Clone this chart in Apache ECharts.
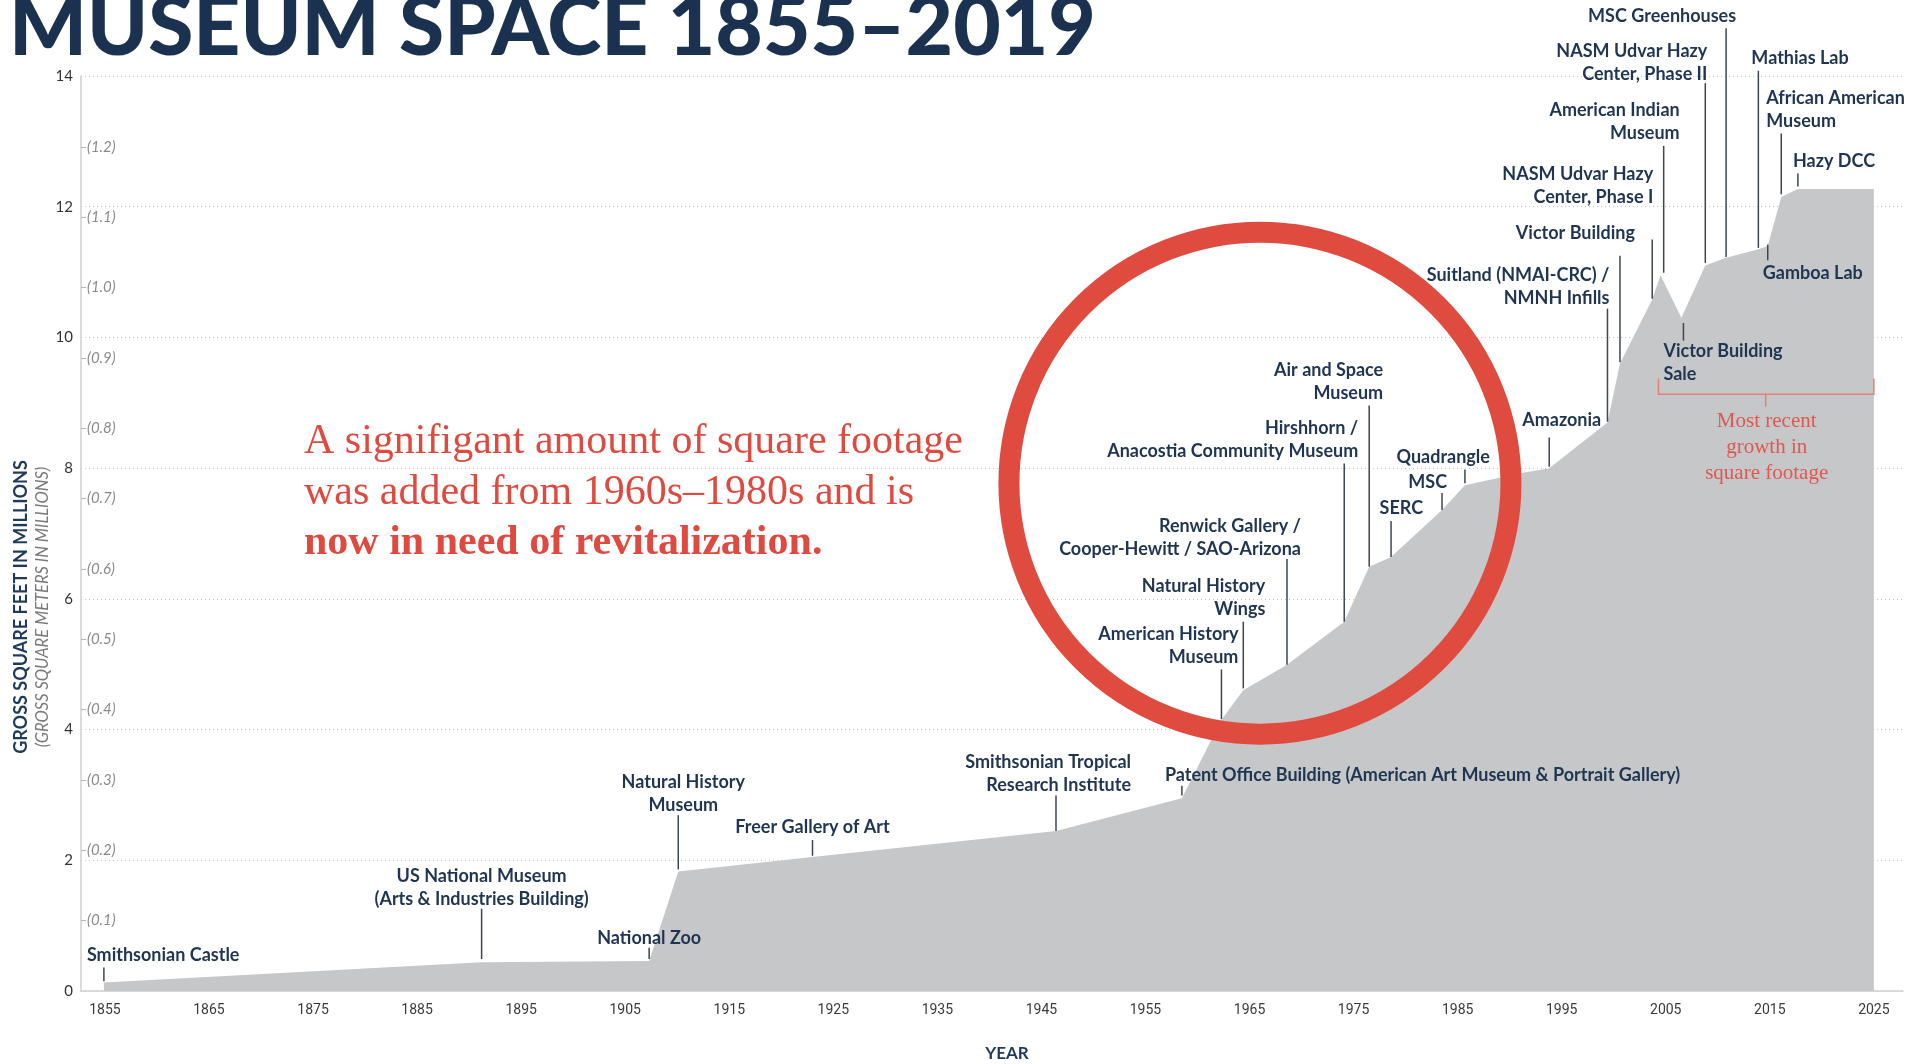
<!DOCTYPE html>
<html>
<head>
<meta charset="utf-8">
<script src="https://cdn.jsdelivr.net/npm/echarts@6/dist/echarts.min.js"></script>
<style>
  html, body { margin: 0; padding: 0; background: #fff; }
  #main { width: 1931px; height: 1064px; }
</style>
</head>
<body>
<div id="main"></div>
<script>
// 面积轮廓（年份 / 百万平方英尺）
const areaYears = [1854.9, 1891.2, 1907.3, 1910.1, 1923.0, 1946.4, 1958.5, 1962.3, 1964.4, 1968.6,
  1974.1, 1976.5, 1978.6, 1983.5, 1985.7, 1991.0, 1993.8, 1999.4, 2000.6, 2003.7,
  2004.5, 2006.5, 2008.8, 2010.8, 2013.9, 2014.8, 2016.1, 2017.7, 2025.0];
const areaValues = [0.13, 0.44, 0.46, 1.83, 2.05, 2.45, 2.95, 4.15, 4.6, 4.99,
  5.65, 6.49, 6.64, 7.36, 7.74, 7.92, 8.0, 8.7, 9.6, 10.58,
  10.95, 10.3, 11.1, 11.22, 11.35, 11.4, 12.15, 12.27, 12.27];

const xTicks = [1855, 1865, 1875, 1885, 1895, 1905, 1915, 1925, 1935, 1945, 1955, 1965, 1975, 1985, 1995, 2005, 2015, 2025];
const meterTicks = [0.1, 0.2, 0.3, 0.4, 0.5, 0.6, 0.7, 0.8, 0.9, 1.0, 1.1, 1.2];
const SQFT_PER_SQM = 10.7639;

// 标注：名称、年份、引线起点(面积边缘)、引线终点
const annoNames = [
  'Smithsonian Castle',
  'US National Museum\n(Arts & Industries Building)',
  'National Zoo',
  'Natural History\nMuseum',
  'Freer Gallery of Art',
  'Smithsonian Tropical\nResearch Institute',
  'Patent Office Building (American Art Museum & Portrait Gallery)',
  'American History\nMuseum',
  'Natural History\nWings',
  'Renwick Gallery /\nCooper-Hewitt / SAO-Arizona',
  'Hirshhorn /\nAnacostia Community Museum',
  'Air and Space\nMuseum',
  'SERC',
  'MSC',
  'Quadrangle',
  'Amazonia',
  'Suitland (NMAI-CRC) /\nNMNH Infills',
  'Victor Building',
  'NASM Udvar Hazy\nCenter, Phase I',
  'American Indian\nMuseum',
  'Victor Building\nSale',
  'NASM Udvar Hazy\nCenter, Phase II',
  'MSC Greenhouses',
  'Mathias Lab',
  'Gamboa Lab',
  'African American\nMuseum',
  'Hazy DCC'
];
const annoYears = [1854.9, 1891.2, 1907.3, 1910.1, 1923.0, 1946.4, 1958.5, 1962.3, 1964.4, 1968.6,
  1974.1, 1976.5, 1978.6, 1983.5, 1985.7, 1993.8, 1999.4, 2000.6, 2003.7, 2004.8,
  2006.7, 2008.8, 2010.8, 2013.9, 2014.8, 2016.1, 2017.7];
const annoFrom = [0.15, 0.49, 0.49, 1.86, 2.07, 2.45, 2.99, 4.16, 4.63, 4.99,
  5.65, 6.49, 6.64, 7.36, 7.77, 8.02, 8.71, 9.62, 10.59, 10.99,
  10.22, 11.14, 11.23, 11.37, 11.42, 12.19, 12.31];
const annoTo = [0.36, 1.26, 0.66, 2.69, 2.31, 2.99, 3.14, 4.92, 5.65, 6.61,
  8.07, 8.96, 7.19, 7.62, 7.98, 8.47, 10.44, 11.25, 11.5, 12.93,
  9.95, 13.89, 14.73, 14.08, 11.18, 13.12, 12.51];

// 标注文字的对齐与偏移(px)
const labelAlign = ['left', 'center', 'center', 'center', 'center', 'right', 'left', 'right', 'right', 'right',
  'right', 'right', 'right', 'right', 'right', 'right', 'right', 'right', 'right', 'right',
  'left', 'right', 'right', 'left', 'left', 'left', 'left'];
const labelDx = [-17, 0, 0, 5, 0, 75, -17, 17, 22, 14,
  14, 14, 32, 5, 25, 52, 2, 15, 1, 16,
  -20, 2, 10, -7, -5, -15, -5];
const labelDy = [0, 3, 3, 2, 0, 2, 2, 0, 0, 3,
  0, 0, 0, 2, 0, -5, 2, -10, -30, 0,
  -2, 3, 0, 0, 0, 0, 0];

const NAVY = '#1f3552';
const RED = '#df4a40';
const LABEL_FONT = 'Lato, "Open Sans", sans-serif';

function renderAnno (params, api) {
  let i = params.dataIndex
  let p1 = api.coord([api.value(0), api.value(1)])
  let p2 = api.coord([api.value(0), api.value(2)])
  let up = api.value(2) > api.value(1)
  return {
    type: 'group',
    children: [
      {
        type: 'line',
        shape: { x1: p1[0], y1: p1[1], x2: p2[0], y2: p2[1] },
        style: { stroke: '#3c4651', lineWidth: 1.5 }
      },
      {
        type: 'text',
        style: {
          text: annoNames[i],
          x: p2[0] + labelDx[i],
          y: (up ? p2[1] - 1 : p2[1] + 1) + labelDy[i],
          align: labelAlign[i],
          verticalAlign: up ? 'bottom' : 'top',
          fill: NAVY,
          fontFamily: LABEL_FONT,
          fontWeight: 'bold',
          fontSize: 18,
          lineHeight: 23
        }
      }
    ]
  }
}

let chart = echarts.init(document.getElementById('main'), null, { renderer: 'canvas' });

let option = {
  backgroundColor: '#fff',
  animation: false,
  grid: { left: 81, top: 76, right: 28, bottom: 73, containLabel: false },
  xAxis: {
    type: 'value',
    min: 1852.7,
    max: 2027.8,
    axisLine: { show: true, lineStyle: { color: '#cfcfcf', width: 1.5 } },
    axisTick: { show: false },
    splitLine: { show: false },
    axisLabel: {
      customValues: xTicks,
      formatter: v => String(v),
      color: '#3a3a3a',
      fontFamily: 'Roboto, sans-serif',
      fontSize: 14,
      margin: 12
    }
  },
  yAxis: [
    {
      type: 'value',
      min: 0,
      max: 14,
      interval: 2,
      axisLine: { show: true, lineStyle: { color: '#cfcfcf', width: 1.5 } },
      axisTick: { show: false },
      splitLine: { show: true, lineStyle: { color: '#c4c4c4', type: [1, 3], width: 1 } },
      axisLabel: { color: '#333', fontFamily: LABEL_FONT, fontSize: 15, margin: 8 }
    },
    {
      type: 'value',
      position: 'left',
      min: 0,
      max: 14 / SQFT_PER_SQM,
      axisLine: { show: false },
      splitLine: { show: false },
      axisTick: { show: true, inside: true, length: 5, customValues: meterTicks, lineStyle: { color: '#b5b5b5' } },
      axisLabel: {
        inside: true,
        customValues: meterTicks,
        margin: 6,
        color: '#8a8a8a',
        fontStyle: 'italic',
        fontFamily: LABEL_FONT,
        fontSize: 15,
        formatter: v => '(' + v.toFixed(1) + ')'
      }
    }
  ],
  series: [
    {
      type: 'line',
      data: areaYears.map((y, i) => [y, areaValues[i]]),
      symbol: 'none',
      lineStyle: { width: 0 },
      areaStyle: { color: '#c6c7c9', opacity: 1 },
      z: 2
    },
    {
      type: 'custom',
      renderItem: renderAnno,
      data: annoYears.map((y, i) => [y, annoFrom[i], annoTo[i]]),
      clip: false,
      z: 5
    }
  ]
};

chart.setOption(option);

// 圆圈、括号等装饰，位置由数据坐标换算
let toPx = p => chart.convertToPixel({ xAxisIndex: 0, yAxisIndex: 0 }, p);
let c = toPx([1966, 7.77]);
let bl = toPx([2004.3, 9.13]), br = toPx([2025, 9.13]);
let bTop = toPx([2004.3, 9.37])[1], bMid = toPx([2014.6, 8.94]);
let noteAt = toPx([2014.7, 8.71]);

chart.setOption({
  graphic: [
    {
      type: 'text', left: 9, top: -12, z: 10,
      style: { text: 'MUSEUM SPACE 1855–2019', fill: '#1b3150', font: '900 82px Lato, sans-serif' }
    },
    {
      type: 'circle', z: 8,
      shape: { cx: c[0], cy: c[1], r: 251 },
      style: { fill: 'none', stroke: '#e04b40', lineWidth: 21 }
    },
    {
      type: 'polyline', z: 8,
      shape: { points: [[bl[0], bTop], [bl[0], bl[1]], [br[0], br[1]], [br[0], bTop]] },
      style: { fill: 'none', stroke: '#e58177', lineWidth: 1.5 }
    },
    {
      type: 'line', z: 8,
      shape: { x1: bMid[0], y1: bl[1], x2: bMid[0], y2: bMid[1] },
      style: { stroke: '#e58177', lineWidth: 1.5 }
    },
    {
      type: 'text', z: 8, x: noteAt[0], y: noteAt[1] - 13,
      style: {
        text: 'Most recent\ngrowth in\nsquare footage',
        align: 'center', verticalAlign: 'top',
        fill: '#e0584f', font: '21px "Liberation Serif", serif', lineHeight: 26
      }
    },
    {
      type: 'text', z: 8, x: 304, y: 416,
      style: {
        text: '{n|A signifigant amount of square footage}\n{n|was added from 1960s–1980s and is}\n{b|now in need of revitalization.}',
        fill: RED,
        rich: {
          n: { fontFamily: '"Liberation Serif", serif', fontSize: 42, lineHeight: 51, fill: RED },
          b: { fontFamily: '"Liberation Serif", serif', fontSize: 42, lineHeight: 51, fontWeight: 'bold', fill: RED }
        }
      }
    },
    {
      type: 'text', x: 21, y: 607, rotation: Math.PI / 2, z: 8,
      style: { text: 'GROSS SQUARE FEET IN MILLIONS', align: 'center', verticalAlign: 'middle', fill: '#1f3a5a', font: 'bold 18px Lato, sans-serif' }
    },
    {
      type: 'text', x: 43, y: 607, rotation: Math.PI / 2, z: 8,
      style: { text: '(GROSS SQUARE METERS IN MILLIONS)', align: 'center', verticalAlign: 'middle', fill: '#7a7a7a', font: 'italic 16.5px Lato, sans-serif' }
    },
    {
      type: 'text', x: 1007, y: 1054, z: 8,
      style: { text: 'YEAR', align: 'center', verticalAlign: 'middle', fill: '#1f3a5a', font: 'bold 17px Lato, sans-serif' }
    }
  ]
});
</script>
</body>
</html>
